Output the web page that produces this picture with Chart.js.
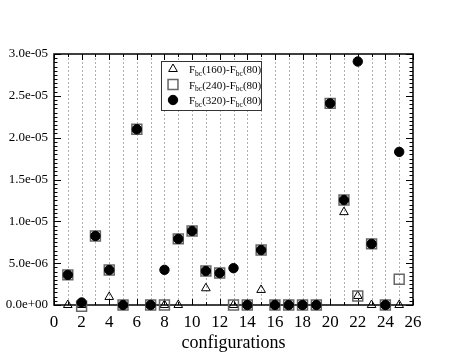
<!DOCTYPE html>
<html>
<head>
<meta charset="utf-8">
<script src="https://cdn.jsdelivr.net/npm/chart.js@4.4.1/dist/chart.umd.min.js"></script>
<style>
  html, body { margin: 0; padding: 0; background: #fff; }
  #wrap { width: 466px; height: 360px; }
</style>
</head>
<body>
<div id="wrap"><canvas id="myChart"></canvas></div>
<script>
// configurations 1..25
const configs = [1, 2, 3, 4, 5, 6, 7, 8, 9, 10, 11, 12, 13, 14, 15, 16, 17, 18, 19, 20, 21, 22, 23, 24, 25];

// F_bc(160)-F_bc(80)
const diff160 = [0, 0, 8.25e-6, 0.96e-6, 0, 2.1e-5, 0, 0, 0, 8.85e-6, 2.0e-6, 3.82e-6, 0, 0, 1.8e-6,
  0, 0, 0, 0, 2.41e-5, 1.11e-5, 1.08e-6, 0, 0, 0];
// F_bc(240)-F_bc(80)
const diff240 = [3.6e-6, -0.15e-6, 8.25e-6, 4.18e-6, 0, 2.1e-5, 0, 0, 7.9e-6, 8.85e-6, 4.06e-6, 3.82e-6, 0, 0, 6.57e-6,
  0, 0, 0, 0, 2.41e-5, 1.255e-5, 1.08e-6, 7.3e-6, 0, 3.07e-6];
// F_bc(320)-F_bc(80)
const diff320 = [3.6e-6, 0.3e-6, 8.25e-6, 4.18e-6, 0, 2.1e-5, 0, 4.2e-6, 7.9e-6, 8.85e-6, 4.06e-6, 3.82e-6, 4.4e-6, 0, 6.57e-6,
  0, 0, 0, 0, 2.41e-5, 1.255e-5, 2.91e-5, 7.3e-6, 0, 1.83e-5];

const seriesNames = ['F_bc(160)-F_bc(80)', 'F_bc(240)-F_bc(80)', 'F_bc(320)-F_bc(80)'];
const xTicks = [0, 2, 4, 6, 8, 10, 12, 14, 16, 18, 20, 22, 24, 26];

Chart.defaults.font.family = "'Liberation Serif', 'DejaVu Serif', serif";
Chart.defaults.color = '#000';

function toPoints(vals) {
  return configs.map((c, i) => ({ x: c, y: vals[i] }));
}

function sci(v) {
  const s = Number(v).toExponential(1);
  const parts = s.split('e');
  const sign = parts[1][0];
  let exp = parts[1].slice(1);
  if (exp.length < 2) exp = '0' + exp;
  return parts[0] + 'e' + sign + exp;
}

const markers = [
  { pointStyle: 'triangle', radius: 5, borderWidth: 1, borderColor: '#000', backgroundColor: 'rgba(0,0,0,0)' },
  { pointStyle: 'rect', radius: 7, borderWidth: 1.5, borderColor: '#666', backgroundColor: 'rgba(0,0,0,0)' },
  { pointStyle: 'circle', radius: 4.7, borderWidth: 1, borderColor: '#000', backgroundColor: '#000' }
];

// grid, frame, inward ticks and legend with subscripts
const framePlugin = {
  id: 'frame',
  beforeDatasetsDraw(chart) {
    const { ctx, chartArea: a, scales: { x, y } } = chart;
    ctx.save();
    ctx.strokeStyle = '#b0b0b0';
    ctx.lineWidth = 1;
    ctx.setLineDash([2, 2]);
    for (let v = 1; v < 26; v++) {
      const px = Math.round(x.getPixelForValue(v)) + 0.5;
      ctx.beginPath();
      ctx.moveTo(px, a.top);
      ctx.lineTo(px, a.bottom);
      ctx.stroke();
    }
    ctx.setLineDash([]);
    ctx.strokeStyle = '#000';
    for (let v = 0; v <= 26; v++) {
      const px = Math.round(x.getPixelForValue(v)) + 0.5;
      const len = v % 2 ? 3 : 6;
      ctx.beginPath();
      ctx.moveTo(px, a.bottom); ctx.lineTo(px, a.bottom - len);
      ctx.moveTo(px, a.top); ctx.lineTo(px, a.top + len);
      ctx.stroke();
    }
    for (let k = 0; k <= 60; k++) {
      const py = Math.round(y.getPixelForValue(k * 5e-7)) + 0.5;
      const len = k % 10 ? 3.5 : 7;
      ctx.beginPath();
      ctx.moveTo(a.left, py); ctx.lineTo(a.left + len, py);
      ctx.moveTo(a.right, py); ctx.lineTo(a.right - len, py);
      ctx.stroke();
    }
    ctx.lineWidth = 1.5;
    ctx.strokeRect(a.left, a.top, a.right - a.left, a.bottom - a.top);
    ctx.restore();
  },
  afterDatasetsDraw(chart) {
    const ctx = chart.ctx;
    const bx = 161, by = 61, bw = 100, bh = 49;
    ctx.save();
    ctx.fillStyle = '#fff';
    ctx.fillRect(bx, by, bw, bh);
    ctx.strokeStyle = '#333';
    ctx.lineWidth = 1;
    ctx.strokeRect(bx + 0.5, by + 0.5, bw, bh);
    seriesNames.forEach((name, i) => {
      const cy = 69 + i * 15.5;
      const m = markers[i];
      ctx.strokeStyle = m.borderColor;
      ctx.fillStyle = m.backgroundColor;
      ctx.lineWidth = m.borderWidth;
      Chart.helpers.drawPoint(ctx, { pointStyle: m.pointStyle, radius: m.radius, borderWidth: m.borderWidth, rotation: 0 }, 173, cy);
      // text with "bc" subscripts
      ctx.fillStyle = '#000';
      ctx.textBaseline = 'alphabetic';
      let tx = 189;
      const pieces = name.split('_bc');
      pieces.forEach((p, j) => {
        ctx.font = "11px 'Liberation Serif'";
        ctx.fillText(p, tx, cy + 4);
        tx += ctx.measureText(p).width;
        if (j < pieces.length - 1) {
          ctx.font = "7.5px 'Liberation Serif'";
          ctx.fillText('bc', tx, cy + 6.5);
          tx += ctx.measureText('bc').width;
        }
      });
    });
    ctx.restore();
  }
};

const scatterData = {
  datasets: [
    { label: seriesNames[0], data: toPoints(diff160), order: 3 },
    { label: seriesNames[1], data: toPoints(diff240), order: 2 },
    { label: seriesNames[2], data: toPoints(diff320), order: 1 }
  ].map((d, i) => Object.assign(d, {
    pointStyle: markers[i].pointStyle,
    pointRadius: markers[i].radius,
    pointBorderWidth: markers[i].borderWidth,
    pointBorderColor: markers[i].borderColor,
    pointBackgroundColor: markers[i].backgroundColor,
    showLine: false,
    clip: false
  }))
};

const configScatter = {
  type: 'scatter',
  data: scatterData,
  options: {
    responsive: true,
    maintainAspectRatio: false,
    animation: false,
    layout: { padding: { top: 54, right: 53, left: 0, bottom: 0 } },
    plugins: {
      legend: { display: false },
      tooltip: { enabled: false }
    },
    scales: {
      x: {
        type: 'linear',
        min: 0,
        max: 26,
        afterBuildTicks: s => { s.ticks = xTicks.map(v => ({ value: v })); },
        afterFit: s => { s.height = 55; },
        grid: { display: false, drawTicks: false },
        border: { display: false },
        ticks: { padding: 7, maxRotation: 0, autoSkip: false, font: { size: 17 } },
        title: { display: true, text: 'configurations', font: { size: 18 }, padding: { top: 0, bottom: 6 } }
      },
      y: {
        min: 0,
        max: 3e-5,
        afterFit: s => { s.width = 54; },
        grid: { display: false, drawTicks: false },
        border: { display: false },
        ticks: { stepSize: 5e-6, padding: 6, font: { size: 13 }, callback: v => sci(v) }
      }
    }
  },
  plugins: [framePlugin]
};

var fbcChart = document.getElementById('myChart');
let chart1 = new Chart(fbcChart, configScatter);
</script>
</body>
</html>
